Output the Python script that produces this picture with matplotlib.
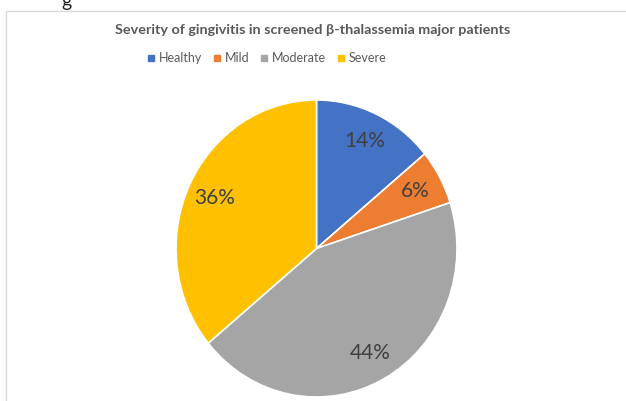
import matplotlib
matplotlib.use("Agg")
import matplotlib.pyplot as plt
from matplotlib.patches import Rectangle
from matplotlib.lines import Line2D

categories = ["Healthy", "Mild", "Moderate", "Severe"]
values = [14, 6, 44, 36]
colors = ["#4472C4", "#ED7D31", "#A5A5A5", "#FFC000"]
title = "Severity of gingivitis in screened β-thalassemia major patients"

plt.rcParams['font.family'] = ['Lato', 'DejaVu Sans']

W, H = 626, 401
fig = plt.figure(figsize=(W / 100, H / 100), dpi=100)

# chart border (light gray)
fig.add_artist(Rectangle((5.5 / W, -0.1), 1.2, (H - 11) / H + 0.1,
                         transform=fig.transFigure, fill=False,
                         edgecolor="#D9D9D9", linewidth=1.0))
# fragment of preceding text cut at top
fig.text(66 / W, 1 - 1 / H, "g", fontsize=14, color="#222222",
         ha="center", va="center")

cx, cy, rx, ry = 316.5, 248.5, 140.5, 148.5
ax = fig.add_axes([(cx - rx) / W, (H - cy - ry) / H, 2 * rx / W, 2 * ry / H])
wedges, texts, autotexts = ax.pie(
    values, colors=colors, startangle=90, counterclock=False,
    autopct=lambda p: f"{p:.0f}%", pctdistance=0.8,
    wedgeprops=dict(edgecolor="white", linewidth=1.2),
    textprops=dict(fontsize=15, color="#404040"))
ax.set_xlim(-1, 1)
ax.set_ylim(-1, 1)
ax.set_aspect('auto')
ax.axis('off')

t = fig.text(313 / W, 1 - 30 / H, title, ha="center", va="center",
             fontsize=11, fontweight="bold", color="#595959")
fig.canvas.draw()
bb = t.get_window_extent()
t.set_fontsize(11 * 392 / bb.width)

handles = [Line2D([], [], marker="s", linestyle="none", markersize=5,
                  markerfacecolor=c, markeredgecolor=c) for c in colors]
leg = fig.legend(handles, categories, loc="center", bbox_to_anchor=(267 / W, 1 - 58 / H),
                 ncol=4, frameon=False, handlelength=0.6,
                 handletextpad=0.3, columnspacing=0.9, labelcolor="#595959",
                 prop=dict(size=9))

fig.savefig("out.png", dpi=100)
